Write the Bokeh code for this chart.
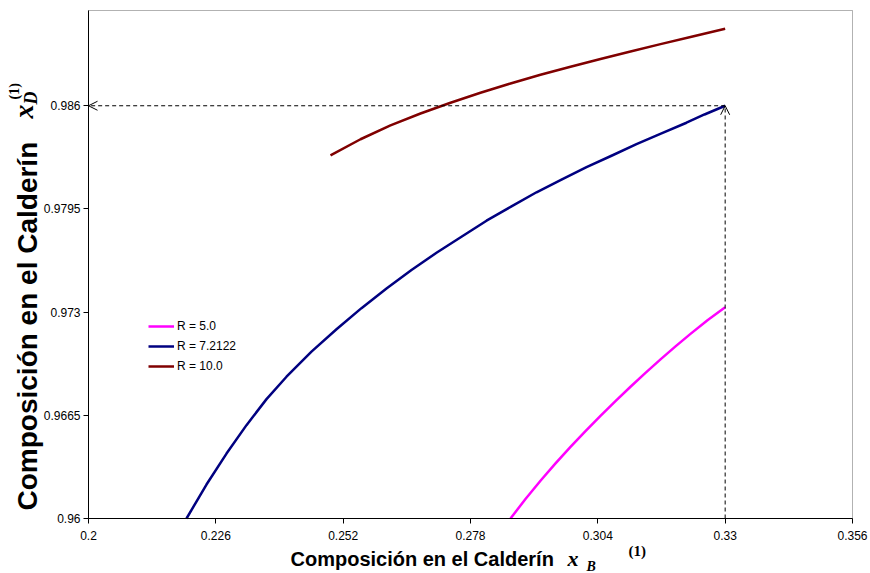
import math
from bokeh.plotting import figure
from bokeh.models import Arrow, OpenHead, Label, FixedTicker, Range1d, BoxAnnotation
from bokeh.embed import file_html
from bokeh.resources import INLINE

# Bottoms composition xB(1) vs. distillate composition xD(1) for three reflux ratios
r5_xb = [0.28617, 0.28923, 0.29229, 0.29536, 0.29842, 0.30148, 0.30454,
         0.30760, 0.31067, 0.31373, 0.31680, 0.31986, 0.32292, 0.32639, 0.33000]
r5_xd = [0.96000, 0.96123, 0.96238, 0.96347, 0.96451, 0.96551, 0.96647,
         0.96740, 0.96830, 0.96917, 0.97002, 0.97084, 0.97163, 0.97249, 0.97330]

r72_xb = [0.22001, 0.22409, 0.22818, 0.23226, 0.23635, 0.24043, 0.24553,
          0.25064, 0.25574, 0.26085, 0.26595, 0.27106, 0.27616, 0.28127,
          0.28637, 0.29148, 0.29658, 0.30169, 0.30679, 0.31189, 0.31700,
          0.32210, 0.32578, 0.33000]
r72_xd = [0.96000, 0.96214, 0.96409, 0.96588, 0.96752, 0.96893, 0.97051,
          0.97192, 0.97325, 0.97449, 0.97565, 0.97674, 0.97775, 0.97876,
          0.97966, 0.98055, 0.98134, 0.98213, 0.98285, 0.98358, 0.98426,
          0.98493, 0.98545, 0.98600]

r10_xb = [0.24941, 0.25554, 0.26166, 0.26779, 0.27392, 0.28004, 0.28617,
          0.29229, 0.29842, 0.30454, 0.31067, 0.31680, 0.32292, 0.33000]
r10_xd = [0.98287, 0.98389, 0.98476, 0.98551, 0.98619, 0.98682, 0.98740,
          0.98795, 0.98846, 0.98895, 0.98942, 0.98988, 0.99033, 0.99085]

series_labels = ["R = 5.0", "R = 7.2122", "R = 10.0"]
series_colors = ["#FF00FF", "#000080", "#800000"]

x_ticks = [0.2, 0.226, 0.252, 0.278, 0.304, 0.33, 0.356]
x_tick_labels = ["0.2", "0.226", "0.252", "0.278", "0.304", "0.33", "0.356"]
y_ticks = [0.96, 0.9665, 0.973, 0.9795, 0.986]
y_tick_labels = ["0.96", "0.9665", "0.973", "0.9795", "0.986"]

# Axis limits of the plotting box
X0, X1 = 0.2, 0.356
Y0, Y1 = 0.96, 0.992

# Canvas size and where the plotting box sits on it (pixels)
W, H = 870, 573
LEFT, RIGHT, TOP, BOTTOM = 88, 852, 10, 518


def dx(px):
    return X0 + (px - LEFT) * (X1 - X0) / (RIGHT - LEFT)


def dy(py):
    return Y0 + (BOTTOM - py) * (Y1 - Y0) / (BOTTOM - TOP)


# The frame spans the whole canvas so the axis titles can sit outside the box
p = figure(width=W, height=H,
           x_range=Range1d(dx(0), dx(W)), y_range=Range1d(dy(H), dy(0)),
           output_backend="svg", toolbar_location=None,
           min_border=0, min_border_left=0, min_border_right=0,
           min_border_top=0, min_border_bottom=0)

p.background_fill_color = "white"
p.border_fill_color = "white"
p.outline_line_color = None
p.xgrid.visible = False
p.ygrid.visible = False

p.xaxis.fixed_location = Y0
p.yaxis.fixed_location = X0
p.xaxis.bounds = (X0, X1)
p.yaxis.bounds = (Y0, Y1)
p.xaxis.ticker = FixedTicker(ticks=x_ticks)
p.yaxis.ticker = FixedTicker(ticks=y_ticks)
p.xaxis.major_label_overrides = dict(zip(x_ticks, x_tick_labels))
p.yaxis.major_label_overrides = dict(zip(y_ticks, y_tick_labels))
for ax in (p.xaxis, p.yaxis):
    ax.axis_line_color = "black"
    ax.axis_line_width = 1
    ax.major_tick_line_color = "black"
    ax.major_tick_out = 5
    ax.major_tick_in = 0
    ax.minor_tick_line_color = None
    ax.major_label_text_font = "Liberation Sans"
    ax.major_label_text_font_size = "12px"
    ax.major_label_text_color = "black"
p.xaxis.major_label_standoff = 7
p.yaxis.major_label_standoff = 3

# Border of the plotting box
p.add_layout(BoxAnnotation(left=X0, right=X1, bottom=Y0, top=Y1,
                           fill_color=None, line_color="black", line_width=1))

# Curves
for xs, ys, lab, col in zip([r5_xb, r72_xb, r10_xb], [r5_xd, r72_xd, r10_xd],
                            series_labels, series_colors):
    p.line(xs, ys, line_color=col, line_width=2.5, line_join="round",
           legend_label=lab)

# Dashed guide lines from the operating point to both axes
xb_op, xd_op = r72_xb[-1], r72_xd[-1]
p.add_layout(Arrow(x_start=xb_op, y_start=xd_op, x_end=X0, y_end=xd_op,
                   end=OpenHead(size=9, line_width=1, line_color="black"),
                   line_dash="4 3", line_width=1, line_color="black"))
p.add_layout(Arrow(x_start=xb_op, y_start=Y0, x_end=xb_op, y_end=xd_op,
                   end=OpenHead(size=9, line_width=1, line_color="black"),
                   line_dash="4 3", line_width=1, line_color="black"))

leg = p.legend[0]
leg.location = (148, H - 375)
leg.background_fill_alpha = 0
leg.border_line_alpha = 0
leg.padding = 0
leg.margin = 0
leg.spacing = 2
leg.glyph_width = 26
leg.glyph_height = 18
leg.label_height = 18
leg.label_standoff = 3
leg.label_text_font = "Liberation Sans"
leg.label_text_font_size = "12px"
leg.label_text_color = "black"


def put(text, px, py, font, size, style, angle=0.0):
    p.add_layout(Label(x=dx(px), y=dy(py), text=text, text_font=font,
                       text_font_size=size, text_font_style=style,
                       text_color="black", text_align="left",
                       text_baseline="middle", angle=angle))


SANS, SERIF = "Liberation Sans", "Liberation Serif"

# x-axis title with xB(1)
put("Composición en el Calderín", 290, 558, SANS, "20px", "bold")
put("x", 567, 558, SERIF, "22px", "bold italic")
put("B", 586, 566, SERIF, "14px", "bold italic")
put("(1)", 628, 550, SERIF, "15px", "bold")

# y-axis title with xD(1), rotated
up = math.pi / 2
put("Composición en el Calderín", 27, 510, SANS, "28px", "bold", up)
put("x", 23, 118, SERIF, "28px", "bold italic", up)
put("D", 30, 104, SERIF, "18px", "bold italic", up)
put("(1)", 14, 99, SERIF, "14px", "bold", up)

open("out.html", "w").write(file_html(p, INLINE))
